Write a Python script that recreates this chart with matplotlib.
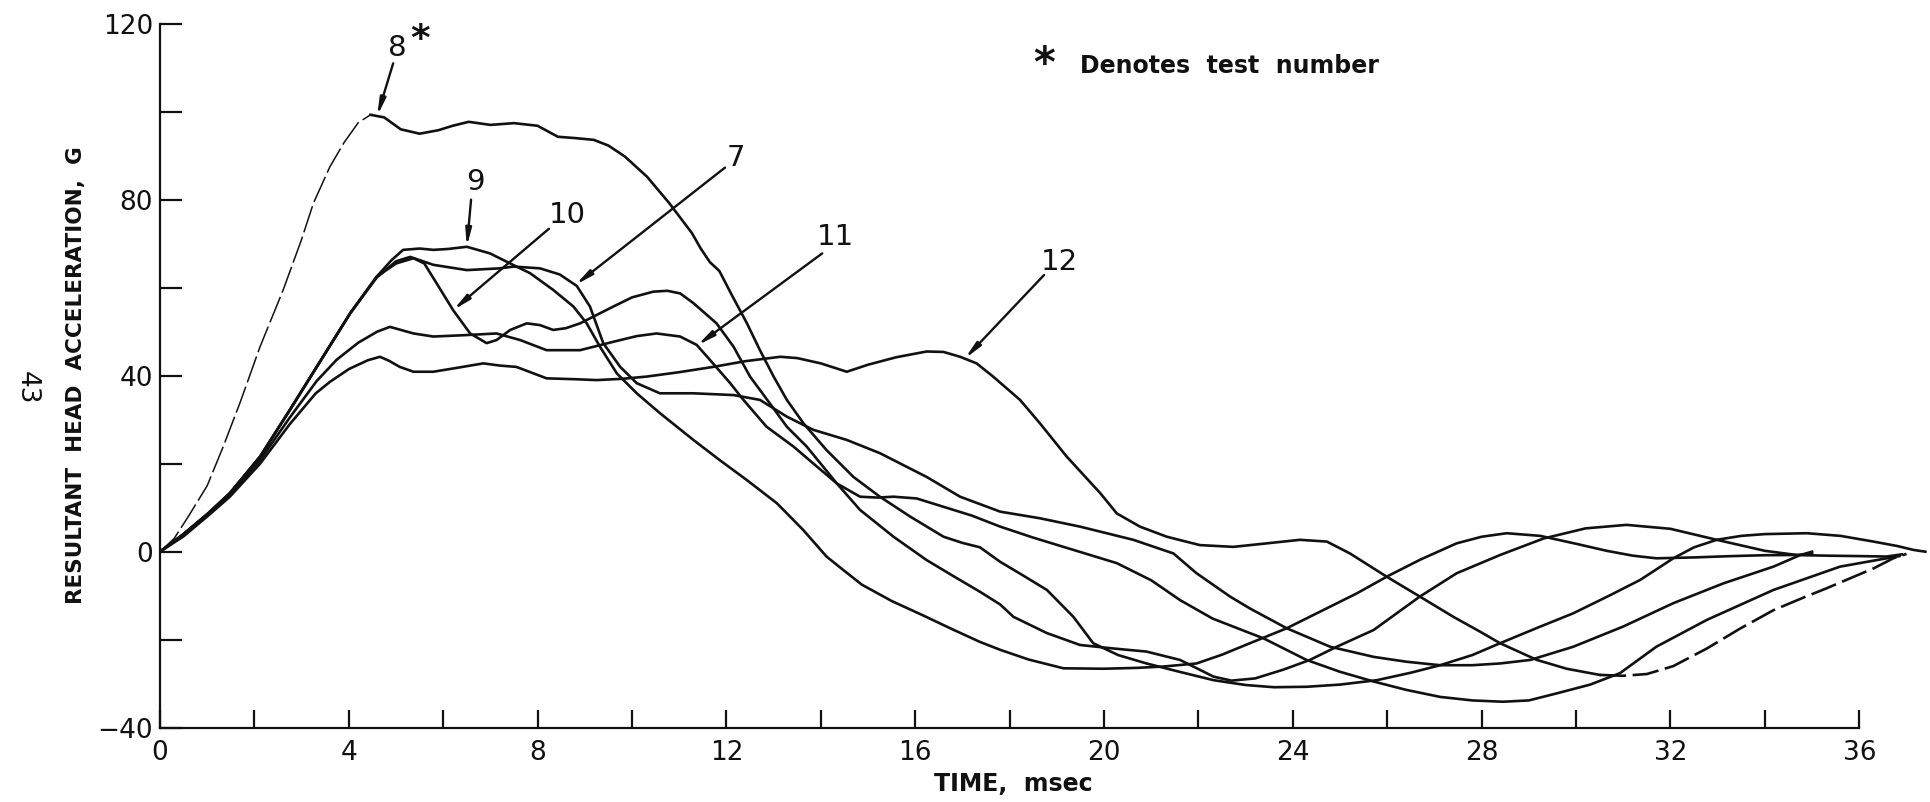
import numpy as np
import matplotlib
matplotlib.use("Agg")
import matplotlib.pyplot as plt
from matplotlib import font_manager as fm

# ---------------- data: resultant head acceleration (G) vs time (msec) ----------------
t_8 = [0, 0.3, 0.6, 1.0, 1.34, 1.7, 2.12, 2.61, 3.0, 3.25, 3.6, 3.9, 4.2, 4.46, 4.75, 5.1, 5.5,
       5.9, 6.2, 6.54, 7.0, 7.5, 8.0, 8.43, 8.8, 9.19, 9.5, 9.85, 10.32, 10.79, 11.27, 11.45,
       11.65, 11.85, 12.13, 12.43, 12.71, 13.0, 13.28, 13.63, 14.12, 14.69, 15.25, 15.89, 16.6,
       17.0, 17.37, 17.8, 18.3, 18.79, 19.35, 19.77, 20.3, 20.9, 21.6, 22.32, 23.0, 23.6, 24.29,
       25.0, 25.78, 26.5, 27.12, 27.8, 28.39, 29.2, 29.94, 30.7, 31.36, 32.06, 32.5, 32.98, 33.5,
       34.0, 34.89, 35.6, 36.3, 36.8, 37.15, 37.4]
g_8 = [0, 3, 8, 15, 23.9, 34, 46.6, 59.5, 71, 79.2, 87.5, 93, 97.5, 99.3, 98.7, 96, 95,
       95.8, 96.8, 97.7, 97, 97.4, 96.8, 94.3, 94, 93.6, 92.3, 89.8, 85.2, 79.2, 72.4, 69,
       65.8, 63.8, 58, 52, 45.8, 39.8, 34.5, 29.2, 23.1, 17, 12.5, 8, 3.4,
       2, 1.0, -2.3, -5.5, -8.7, -14.8, -20.8, -23.5, -25.4, -27.3, -29.2, -30.3, -30.8, -30.7,
       -30.2, -29.2, -27.5, -25.8, -23.5, -20.8, -17.2, -14, -10, -6.4, -1.5, 1.0, 2.7, 3.6,
       4.0, 4.2, 3.6, 2.3, 1.3, 0.4, 0]

t_9 = [0, 0.5, 1.0, 1.48, 2.12, 2.75, 3.32, 4.03, 4.59, 4.9, 5.15, 5.5, 5.79, 6.1, 6.5, 6.99,
       7.42, 7.84, 8.33, 8.76, 9.04, 9.32, 9.68, 10.1, 10.59, 11.3, 11.86, 12.43, 13.07, 13.63,
       14.12, 14.48, 14.87, 15.5, 16.17, 16.8, 17.37, 17.8, 18.4, 19.14, 20.0, 20.7, 21.26,
       21.96, 22.5, 23.09, 23.87, 24.6, 25.35, 26.02, 26.7, 27.47, 28.0, 28.53, 29.24, 30.0,
       30.65, 31.2, 31.7, 32.5, 33.3, 34.0, 34.6, 35.3, 36.0, 36.58, 36.9]
g_9 = [0, 4, 8.5, 13.3, 21.6, 32.2, 42, 54.2, 62.5, 66.2, 68.6, 68.9, 68.6, 68.8, 69.3, 67.8,
       65.5, 63.3, 59.5, 55.7, 51.9, 46.6, 40.5, 36, 31.5, 25.4, 20.8, 16.3, 11, 4.9,
       -1.1, -4.2, -7.5, -11.2, -14.5, -17.7, -20.5, -22.3, -24.5, -26.5, -26.6, -26.4, -26.1,
       -25.4, -23.4, -20.8, -17.4, -13.5, -9.5, -5.5, -1.8, 1.9, 3.4, 4.2, 3.6, 1.8,
       0.2, -0.9, -1.5, -1.3, -1.0, -0.8, -0.75, -0.9, -1.0, -1.1, -0.6]

t_7 = [0, 0.5, 1.0, 1.48, 2.12, 2.75, 3.32, 4.03, 4.59, 5.0, 5.3, 5.79, 6.5, 7.2, 7.49, 8.05,
       8.47, 8.83, 9.11, 9.39, 9.75, 10.1, 10.59, 11.3, 12.15, 12.71, 13.28, 13.84, 14.55,
       15.25, 16.24, 16.95, 17.8, 18.64, 19.49, 20.62, 21.47, 21.96, 22.67, 23.09, 23.87, 24.79,
       25.71, 26.4, 27.12, 27.8, 28.39, 29.03, 29.94, 31.0, 32.06, 33.12, 34.18, 34.75, 35.0]
g_7 = [0, 4, 8.5, 13.3, 21.6, 32.2, 42, 54.2, 62.3, 66, 67, 65.2, 64, 64.4, 64.8, 64.4,
       63, 60.4, 55.7, 47.4, 42, 38.3, 36, 36, 35.6, 34.5, 30.7, 27.7, 25.4,
       22.4, 17, 12.5, 9.1, 7.6, 5.7, 2.7, -0.4, -4.9, -10.2, -12.9, -17.4, -21.6,
       -23.9, -25, -25.8, -25.8, -25.4, -24.6, -21.6, -17, -11.7, -7.2, -3.4, -0.75, 0]

t_10 = [0, 0.5, 1.0, 1.48, 2.12, 2.75, 3.32, 4.03, 4.59, 5.0, 5.37, 5.6, 5.86, 6.21, 6.57, 6.92,
        7.13, 7.42, 7.77, 8.05, 8.33, 8.6, 8.9, 9.25, 9.6, 10.0, 10.45, 10.75, 11.02, 11.3,
        11.79, 12.15, 12.5, 12.92, 13.28, 13.7, 14.34, 14.83, 15.54, 16.24, 16.8, 17.37, 17.8,
        18.08, 18.79, 19.49, 20.2, 20.9, 21.61, 22.32, 22.7, 23.2, 23.8, 24.36, 24.93, 25.71,
        26.69, 27.47, 28.39, 29.31, 30.2, 31.07, 32.0, 32.98, 34.0, 34.67, 35.0]
g_10 = [0, 4, 8.5, 13.3, 21.6, 32.2, 42, 54.2, 62.5, 65.5, 66.7, 65.5, 61, 54.9, 49.6, 47.4,
        48.1, 50.4, 51.9, 51.5, 50.4, 50.8, 51.9, 53.8, 55.7, 57.8, 59.1, 59.3, 58.7, 56.5,
        51.9, 46.6, 39.8, 33.7, 28.4, 23.9, 15.5, 9.5, 3.4, -1.9, -5.5, -9.1, -12,
        -14.8, -18.5, -21.2, -22, -22.7, -24.6, -28.4, -29.3, -28.8, -26.8, -24.6, -21.6, -17.8,
        -10.2, -4.9, -0.75, 3, 5.3, 6.1, 5.2, 2.7, 0.2, -0.75, -0.5]

t_11 = [0, 0.5, 1.0, 1.48, 2.12, 2.75, 3.32, 3.74, 4.2, 4.6, 4.87, 5.37, 5.79, 6.43, 7.13, 7.63,
        8.19, 8.9, 9.6, 10.1, 10.52, 11.02, 11.37, 11.65, 12.08, 12.36, 12.85, 13.42, 13.9,
        14.34, 14.83, 15.2, 15.54, 16.03, 16.6, 17.2, 17.8, 18.5, 19.14, 20.27, 21.0, 21.61,
        22.3, 23.09, 23.38, 24.29, 25.0, 25.71, 26.4, 27.12, 27.8, 28.45, 29.0, 29.59, 30.3,
        30.93, 31.7, 32.77, 34.18, 35.59, 36.58, 36.85]
g_11 = [0, 4, 8.5, 13, 20.8, 30.5, 38.8, 43.6, 47.5, 50, 51.1, 49.6, 48.9, 49.2, 49.6, 48.1,
        45.8, 45.8, 47.7, 49, 49.6, 48.9, 47, 43.6, 38.3, 34.5, 28.4, 23.9, 19.5,
        15.5, 12.5, 12.3, 12.5, 12.1, 10.2, 8.2, 5.7, 3.2, 1.1, -2.6, -6.5, -11,
        -15.2, -18.5, -19.7, -24.6, -27.3, -29.5, -31.4, -33, -33.8, -34.1, -33.8, -32.2, -30.2,
        -27.6, -21.6, -15.5, -8.7, -3.4, -1.5, -1.0]

t_12 = [0, 0.5, 1.0, 1.48, 2.12, 2.75, 3.3, 3.6, 4.0, 4.4, 4.66, 4.85, 5.08, 5.37, 5.79, 6.3,
        6.85, 7.2, 7.55, 8.19, 8.8, 9.25, 9.8, 10.31, 11.0, 11.72, 12.4, 13.14, 13.5, 14.0,
        14.55, 15.0, 15.6, 16.24, 16.6, 16.95, 17.3, 17.65, 18.22, 18.64, 19.21, 19.92, 20.27,
        20.76, 21.33, 22.03, 22.74, 23.45, 24.15, 24.72, 25.21, 25.99, 26.69, 27.4, 27.97, 28.39,
        29.17, 29.8, 30.5, 31.0, 31.5, 32.06, 32.77, 33.47, 34.18, 34.8, 35.31, 36.3, 36.72, 37.0]
g_12 = [0, 3.5, 8, 12.5, 20, 29, 36, 38.6, 41.5, 43.5, 44.3, 43.4, 42, 40.9, 40.9, 41.8,
        42.8, 42.3, 42, 39.4, 39.2, 39, 39.3, 39.8, 40.8, 42, 43.3, 44.3, 44, 42.8,
        40.9, 42.5, 44.2, 45.5, 45.4, 44.3, 42.8, 39.8, 34.5, 29.2, 21.6, 13.3, 8.7,
        5.7, 3.4, 1.5, 1.1, 1.9, 2.7, 2.3, -0.4, -5.7, -10.2, -14.8, -18.2, -20.8,
        -24.6, -26.6, -28, -28.2, -27.8, -26, -22, -17.5, -13.3, -10.5, -8.3, -3.8, -1.5, -0.5]

series = {
    "7": (t_7, g_7), "8": (t_8, g_8), "9": (t_9, g_9),
    "10": (t_10, g_10), "11": (t_11, g_11), "12": (t_12, g_12),
}

x_major = [0, 4, 8, 12, 16, 20, 24, 28, 32, 36]
x_minor = [2, 6, 10, 14, 18, 22, 26, 30, 34]
y_major = [-40, 0, 40, 80, 120]
y_minor = [-20, 20, 60, 100]

# test-number call-outs: label, label position, arrow start, time of arrow tip on its curve
callouts = [
    ("9", (6.68, 84.0), (6.59, 80.0), 6.5),
    ("10", (8.62, 76.5), (8.24, 73.4), 6.21),
    ("7", (12.2, 89.5), (11.97, 87.3), 8.8),
    ("11", (14.3, 71.6), (14.03, 67.8), 11.38),
    ("12", (19.05, 65.9), (18.73, 62.9), 17.05),
]

# ---------------- fonts ----------------
names = {f.name for f in fm.fontManager.ttflist}
NARROW = "Liberation Sans Narrow" if "Liberation Sans Narrow" in names else "DejaVu Sans"
BOLD = "DejaVu Sans"

# ---------------- figure ----------------
W, H = 1930, 802
fig = plt.figure(figsize=(W / 100, H / 100), dpi=100)
x0_px, x36_px = 160, 1859.3
px_per_ms = (x36_px - x0_px) / 36
y_top_px, y_bot_px = 23.7, 727.7
xmax = 37.5
ax = fig.add_axes([x0_px / W, (H - y_bot_px) / H, xmax * px_per_ms / W,
                   (y_bot_px - y_top_px) / H])
ax.set_xlim(0, xmax)
ax.set_ylim(-40, 120)

ink = "#111111"
lw = 1.9

for key, (t, g) in series.items():
    t = np.asarray(t)
    g = np.asarray(g)
    if key == "8":
        # faint broken trace on the steep rise
        rise = t <= 4.46
        ax.plot(t[rise], g[rise], color=ink, lw=1.1, ls=(0, (18, 3)))
        rest = t >= 4.46
        ax.plot(t[rest], g[rest], color=ink, lw=lw)
    elif key == "12":
        early = t <= 30.5
        ax.plot(t[early], g[early], color=ink, lw=lw)
        late = t >= 30.5
        ax.plot(t[late], g[late], color=ink, lw=lw, ls=(0, (10, 2.5)))
    else:
        ax.plot(t, g, color=ink, lw=lw)

# axes frame: only left and bottom lines
for side in ("top", "right"):
    ax.spines[side].set_visible(False)
ax.spines["left"].set_bounds(-40, 120)
ax.spines["bottom"].set_bounds(0, 36)
for side in ("left", "bottom"):
    ax.spines[side].set_linewidth(1.6)
    ax.spines[side].set_color(ink)

ax.set_xticks(x_major)
ax.set_xticks(x_minor, minor=True)
ax.set_yticks(y_major)
ax.set_yticks(y_minor, minor=True)
ax.set_xticklabels([str(v) for v in x_major])
ax.set_yticklabels(["\u221240" if v < 0 else str(v) for v in y_major])
ax.tick_params(axis="x", which="both", direction="in", length=13, width=1.6,
               color=ink, pad=9, labelsize=19)
ax.tick_params(axis="y", which="both", direction="in", length=16, width=1.6,
               color=ink, pad=5, labelsize=19)
for lab in ax.get_xticklabels() + ax.get_yticklabels():
    lab.set_fontfamily(NARROW)
    lab.set_color(ink)

# axis titles
fig.text(76 / W, 1 - 375 / H, "RESULTANT  HEAD  ACCELERATION,  G",
         rotation=90, ha="center", va="center", fontsize=15.5, fontweight="bold",
         family=BOLD, color=ink)
fig.text(1013 / W, 1 - 784 / H, "TIME,  msec", ha="center", va="center",
         fontsize=17, fontweight="bold", family=BOLD, color=ink)
fig.text(27 / W, 1 - 388 / H, "43", rotation=-90, ha="center", va="center",
         fontsize=19, family=NARROW, color=ink)

# legend note
ax.text(18.73, 110.6, "*", ha="center", va="center", fontsize=30, fontweight="bold",
        family=BOLD, color=ink)
ax.text(19.5, 110.4, "Denotes  test  number",
        ha="left", va="center", fontsize=17, fontweight="bold", family=BOLD, color=ink)

arrow_kw = dict(arrowstyle="-|>,head_length=1.0,head_width=0.17", lw=1.7, color=ink,
                shrinkA=0, shrinkB=0)

# call-out for test 8 (label with the asterisk)
tip_t = 4.6
tip = (tip_t, float(np.interp(tip_t, t_8, g_8)))
ax.annotate("", xy=tip, xytext=(4.94, 111.0), arrowprops=arrow_kw)
ax.text(5.03, 114.5, "8", ha="center", va="center", fontsize=21, family=NARROW, color=ink)
ax.text(5.52, 116.2, "*", ha="center", va="center", fontsize=27, fontweight="bold",
        family=BOLD, color=ink)

for label, pos, start, tip_t in callouts:
    t, g = series[label]
    tip = (tip_t, float(np.interp(tip_t, t, g)))
    ax.annotate("", xy=tip, xytext=start, arrowprops=arrow_kw)
    ax.text(pos[0], pos[1], label, ha="center", va="center", fontsize=21,
            family=NARROW, color=ink)

fig.savefig("out.png", dpi=100, facecolor="white")
